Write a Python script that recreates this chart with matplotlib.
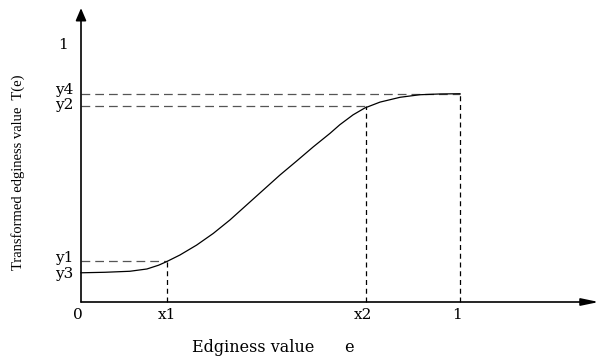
import matplotlib
matplotlib.use("Agg")
import matplotlib.pyplot as plt

# curve T(e)
e_vals = [0.0, 0.063, 0.129, 0.174, 0.205, 0.226, 0.261, 0.305, 0.349, 0.393,
          0.437, 0.481, 0.525, 0.569, 0.613, 0.657, 0.683, 0.718, 0.749, 0.789,
          0.842, 0.894, 0.947, 1.0]
t_vals = [0.115, 0.117, 0.121, 0.130, 0.145, 0.159, 0.185, 0.224, 0.270, 0.323,
          0.382, 0.441, 0.500, 0.555, 0.611, 0.664, 0.698, 0.737, 0.764, 0.787,
          0.806, 0.816, 0.819, 0.820]

# marked points
x_marks = [0.226, 0.752, 1.0]
x_names = ["x1", "x2", "1"]
x_name_pos = [0.227, 0.744, 0.992]
y_marks = [0.161, 0.772, 0.820]   # y1, y2, y4
y_names = ["y4", "y2", "y1", "y3"]
y_name_pos = [0.836, 0.776, 0.174, 0.110]

serif = ["Liberation Serif", "DejaVu Serif"]
wide = ["DejaVu Serif"]

fig = plt.figure(figsize=(6, 3.58), dpi=100)
ax = fig.add_axes([0, 0, 1, 1])
ax.set_xlim(-81 / 379, 519 / 379)
ax.set_ylim(-56 / 254, 302 / 254)
ax.axis("off")

# axes with arrows
ax.annotate("", xy=(1.366, 0), xytext=(0, 0),
            arrowprops=dict(arrowstyle="-|>,head_length=1.05,head_width=0.22",
                            lw=1.2, color="black", shrinkA=0, shrinkB=0,
                            mutation_scale=10))
ax.annotate("", xy=(0, 1.157), xytext=(0, 0),
            arrowprops=dict(arrowstyle="-|>,head_length=0.75,head_width=0.32",
                            lw=1.2, color="black", shrinkA=0, shrinkB=0,
                            mutation_scale=10))

# guide lines
for xm, ym in zip(x_marks, y_marks):
    ax.plot([0, xm], [ym, ym], color="#555555", lw=0.9, dashes=(7, 4))
    ax.plot([xm, xm], [0, ym], color="black", lw=0.9, dashes=(4, 3))

ax.plot(e_vals, t_vals, color="black", lw=0.9, solid_joinstyle="round")

# labels
ax.text(-0.009, -0.051, "0", ha="center", va="center", fontsize=11, family=wide)
for xp, name in zip(x_name_pos, x_names):
    ax.text(xp, -0.051, name, ha="center", va="center", fontsize=11, family=wide)
for yp, name in zip(y_name_pos, y_names):
    ax.text(-0.045, yp, name, ha="center", va="center", fontsize=11, family=wide)
ax.text(-0.047, 1.01, "1", ha="center", va="center", fontsize=11, family=wide)

ax.text(0.507, -0.178, "Edginess value      e", ha="center", va="center",
        fontsize=11.5, family=wide)
ax.text(-0.166, 0.512, "Transformed edginess value  T(e)", ha="center", va="center",
        rotation=90, fontsize=10.5, family=serif)

fig.savefig("out.png", dpi=100)
